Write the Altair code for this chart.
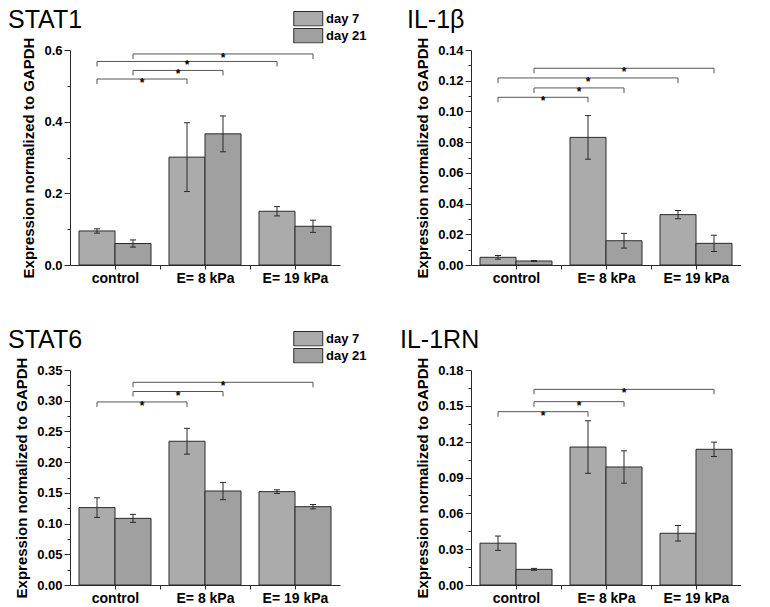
import altair as alt
import pandas as pd

# ---------------- data ----------------
categories = ["control", "E= 8 kPa", "E= 19 kPa"]
days = ["day 7", "day 21"]

stat1_day7 = [0.095, 0.301, 0.150]
stat1_day7_err = [0.006, 0.096, 0.013]
stat1_day21 = [0.060, 0.366, 0.108]
stat1_day21_err = [0.010, 0.050, 0.017]
stat1_brackets = [
    ("control", "day 7", "E= 8 kPa", "day 7", 0.519),
    ("control", "day 21", "E= 8 kPa", "day 21", 0.543),
    ("control", "day 7", "E= 19 kPa", "day 7", 0.568),
    ("control", "day 21", "E= 19 kPa", "day 21", 0.589),
]
stat1_major = [0.0, 0.2, 0.4, 0.6]
stat1_minor = [0.1, 0.3, 0.5]

il1b_day7 = [0.0050, 0.0831, 0.0328]
il1b_day7_err = [0.0012, 0.0142, 0.0027]
il1b_day21 = [0.0026, 0.0158, 0.0141]
il1b_day21_err = [0.0003, 0.0048, 0.0053]
il1b_brackets = [
    ("control", "day 7", "E= 8 kPa", "day 7", 0.1092),
    ("control", "day 21", "E= 8 kPa", "day 21", 0.1153),
    ("control", "day 7", "E= 19 kPa", "day 7", 0.1218),
    ("control", "day 21", "E= 19 kPa", "day 21", 0.1281),
]
il1b_major = [0.00, 0.02, 0.04, 0.06, 0.08, 0.10, 0.12, 0.14]
il1b_minor = [0.01, 0.03, 0.05, 0.07, 0.09, 0.11, 0.13]

stat6_day7 = [0.126, 0.234, 0.152]
stat6_day7_err = [0.016, 0.021, 0.003]
stat6_day21 = [0.1085, 0.153, 0.1275]
stat6_day21_err = [0.0065, 0.014, 0.0035]
stat6_brackets = [
    ("control", "day 7", "E= 8 kPa", "day 7", 0.298),
    ("control", "day 21", "E= 8 kPa", "day 21", 0.315),
    ("control", "day 21", "E= 19 kPa", "day 21", 0.330),
]
stat6_major = [0.00, 0.05, 0.10, 0.15, 0.20, 0.25, 0.30, 0.35]
stat6_minor = [0.025, 0.075, 0.125, 0.175, 0.225, 0.275, 0.325]

il1rn_day7 = [0.035, 0.1155, 0.0433]
il1rn_day7_err = [0.006, 0.022, 0.0065]
il1rn_day21 = [0.0131, 0.0988, 0.1136]
il1rn_day21_err = [0.0008, 0.0135, 0.006]
il1rn_brackets = [
    ("control", "day 7", "E= 8 kPa", "day 7", 0.1451),
    ("control", "day 21", "E= 8 kPa", "day 21", 0.1535),
    ("control", "day 21", "E= 19 kPa", "day 21", 0.1638),
]
il1rn_major = [0.00, 0.03, 0.06, 0.09, 0.12, 0.15, 0.18]
il1rn_minor = [0.015, 0.045, 0.075, 0.105, 0.135, 0.165]

# ---------------- styling / layout ----------------
FONT = "Liberation Sans"
GROUP_SHIFT = {"day 7": -0.2, "day 21": 0.2}
BAR_HALF = 0.2
X_DOMAIN = [-0.5, 2.5]
X_TICKS = [0, 0.5, 1, 1.5, 2]
FILLS = ["#ababab", "#a0a0a0"]
DARK = "#2a2a2a"
W, H = 270, 215

label_expr = " : ".join(
    f"datum.value == {i} ? '{c}'" for i, c in enumerate(categories)
) + " : ''"


def build_panel(title, d7, d7e, d21, d21e, brackets, major, minor, fmt, title_dx):
    rows = []
    for day, vals, errs in ((days[0], d7, d7e), (days[1], d21, d21e)):
        for i, (c, v, e) in enumerate(zip(categories, vals, errs)):
            xc = i + GROUP_SHIFT[day]
            rows.append({"category": c, "day": day, "value": v,
                         "low": v - e, "high": v + e,
                         "xc": xc, "x0": xc - BAR_HALF, "x1": xc + BAR_HALF})
    bars_df = pd.DataFrame(rows)

    def pos(c, d):
        return categories.index(c) + GROUP_SHIFT[d]

    br_rows, end_rows = [], []
    for k, (c1, dd1, c2, dd2, lvl) in enumerate(brackets):
        a, b = pos(c1, dd1), pos(c2, dd2)
        br_rows.append({"id": k, "xa": a, "xb": b, "xm": (a + b) / 2, "level": lvl})
        end_rows += [{"id": k, "xe": a, "level": lvl}, {"id": k, "xe": b, "level": lvl}]
    br_df = pd.DataFrame(br_rows)
    end_df = pd.DataFrame(end_rows)

    ymax = major[-1]
    xs = alt.Scale(domain=X_DOMAIN, nice=False, zero=False)
    ys = alt.Scale(domain=[0, ymax], nice=False, zero=True)

    x_axis = alt.Axis(values=X_TICKS, labelExpr=label_expr, title=None, grid=False,
                      orient="bottom", tickSize=4, labelFontSize=14,
                      labelFontWeight="bold", labelPadding=2, labelOverlap=False,
                      labelFlush=False)
    y_axis = alt.Axis(values=major, format=fmt, orient="left", grid=False,
                      tickSize=6, labelFontSize=13, labelFontWeight="bold",
                      labelPadding=2, labelOverlap=False, labelFlush=False,
                      title="Expression normalized to GAPDH", titleFontSize=15,
                      titleFontWeight="bold", titlePadding=7, titleColor="black")
    y_minor = alt.Axis(values=minor, orient="left", grid=False, labels=False,
                       domain=False, tickSize=3, title=None)

    legend = alt.Legend(orient="none", legendX=223, legendY=-39, title=None,
                        symbolType="M-1,-1H3V1H-1Z", symbolSize=210,
                        symbolStrokeColor=DARK, symbolStrokeWidth=1,
                        symbolOpacity=1, labelFontSize=13, labelFontWeight="bold",
                        labelColor="black", labelOffset=17, rowPadding=1,
                        clipHeight=15.5, padding=0, offset=0)

    base = alt.Chart(bars_df)
    bars = base.mark_rect(stroke=DARK, strokeWidth=1, opacity=1).encode(
        x=alt.X("x0:Q", scale=xs, axis=x_axis),
        x2="x1:Q",
        y=alt.Y("value:Q", scale=ys, axis=y_axis),
        y2=alt.datum(0),
        color=alt.Color("day:N", scale=alt.Scale(domain=days, range=FILLS),
                        legend=legend),
    )
    err = base.mark_rule(color=DARK, strokeWidth=1).encode(
        x=alt.X("xc:Q", scale=xs, axis=None),
        y=alt.Y("low:Q", scale=ys, axis=y_minor),
        y2="high:Q",
    )
    cap_lo = base.mark_tick(orient="horizontal", size=6, thickness=1,
                            color=DARK, opacity=1).encode(
        x=alt.X("xc:Q", scale=xs, axis=None),
        y=alt.Y("low:Q", scale=ys, axis=None),
    )
    cap_hi = base.mark_tick(orient="horizontal", size=6, thickness=1,
                            color=DARK, opacity=1).encode(
        x=alt.X("xc:Q", scale=xs, axis=None),
        y=alt.Y("high:Q", scale=ys, axis=None),
    )
    br_line = alt.Chart(br_df).mark_rule(color="#555", strokeWidth=1).encode(
        x=alt.X("xa:Q", scale=xs, axis=None),
        x2="xb:Q",
        y=alt.Y("level:Q", scale=ys, axis=None),
    )
    br_end = alt.Chart(end_df).mark_tick(orient="vertical", size=5, thickness=1,
                                         yOffset=2.5, color="#555", opacity=1).encode(
        x=alt.X("xe:Q", scale=xs, axis=None),
        y=alt.Y("level:Q", scale=ys, axis=None),
    )
    star = alt.Chart(br_df).mark_text(text="*", fontSize=12, fontWeight="bold",
                                      color="black", dy=4).encode(
        x=alt.X("xm:Q", scale=xs, axis=None),
        y=alt.Y("level:Q", scale=ys, axis=None),
    )
    return alt.layer(bars, err, cap_lo, cap_hi, br_line, br_end, star).resolve_axis(
        x="independent", y="independent"
    ).properties(
        width=W, height=H,
        title=alt.TitleParams(title, anchor="start", frame="group", fontSize=25,
                              font=FONT, fontWeight="normal", color="black",
                              dx=title_dx, offset=4),
    )


p1 = build_panel("STAT1", stat1_day7, stat1_day7_err, stat1_day21, stat1_day21_err,
                 stat1_brackets, stat1_major, stat1_minor, ".1f", -62)
p2 = build_panel("IL-1β", il1b_day7, il1b_day7_err, il1b_day21, il1b_day21_err,
                 il1b_brackets, il1b_major, il1b_minor, ".2f", -64)
p3 = build_panel("STAT6", stat6_day7, stat6_day7_err, stat6_day21, stat6_day21_err,
                 stat6_brackets, stat6_major, stat6_minor, ".2f", -62)
p4 = build_panel("IL-1RN", il1rn_day7, il1rn_day7_err, il1rn_day21, il1rn_day21_err,
                 il1rn_brackets, il1rn_major, il1rn_minor, ".2f", -71)

chart = alt.vconcat(
    alt.hconcat(p1, p2, spacing=67),
    alt.hconcat(p3, p4, spacing=60),
    spacing=43,
).resolve_scale(color="independent").resolve_legend(color="independent").properties(
    padding=0
).configure(font=FONT).configure_view(stroke=None).configure_axis(
    domainColor=DARK, tickColor=DARK, labelColor="black", labelFont=FONT,
    titleFont=FONT,
).configure_legend(labelFont=FONT)

chart.save("out.html", embed_options={"renderer": "svg", "actions": False})
